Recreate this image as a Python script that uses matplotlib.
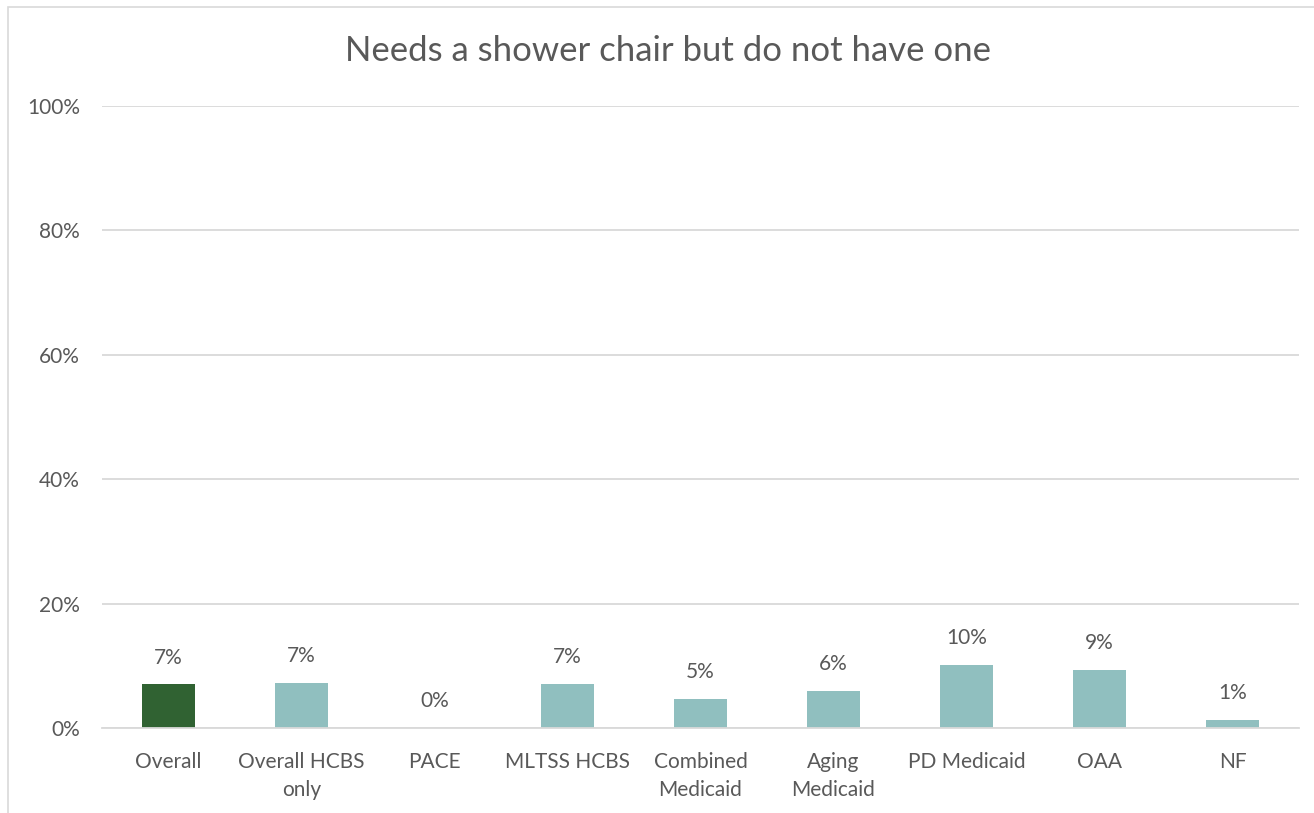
import matplotlib.pyplot as plt
from matplotlib.patches import Rectangle
from matplotlib.ticker import FuncFormatter

# -- data --
categories = ['Overall', 'Overall HCBS\nonly', 'PACE', 'MLTSS HCBS', 'Combined\nMedicaid',
              'Aging\nMedicaid', 'PD Medicaid', 'OAA', 'NF']
values = [7.0, 7.3, 0.0, 7.1, 4.7, 6.0, 10.2, 9.4, 1.3]
labels = ['7%', '7%', '0%', '7%', '5%', '6%', '10%', '9%', '1%']
colors = ['#306232'] + ['#90BFBF'] * 8

txt = '#595959'
plt.rcParams['font.family'] = ['Lato', 'DejaVu Sans']

fig = plt.figure(figsize=(13.14, 8.13), dpi=100)
ax = fig.add_axes([102 / 1314, 1 - 728 / 813, 1197 / 1314, 622 / 813])

x = range(len(categories))
ax.bar(x, values, width=0.405, color=colors, zorder=3)
for i, v in enumerate(values):
    ax.annotate(labels[i], (i, v), xytext=(0, 12), textcoords='offset points',
                ha='center', va='bottom', fontsize=15, color=txt)

ax.set_xlim(-0.5, len(categories) - 0.5)
ax.set_ylim(0, 100)
ax.set_yticks([0, 20, 40, 60, 80, 100])
ax.yaxis.set_major_formatter(FuncFormatter(lambda v, p: f'{v:.0f}%'))
ax.set_xticks(list(x))
ax.set_xticklabels(categories, fontsize=15, color=txt, linespacing=1.55)
ax.tick_params(axis='y', labelsize=15, labelcolor=txt, length=0, pad=16)
ax.tick_params(axis='x', length=0, pad=17)
ax.grid(axis='y', color='#D9D9D9', linewidth=1.3, zorder=0)
for s in ['top', 'right', 'left']:
    ax.spines[s].set_visible(False)
ax.spines['bottom'].set_color('#D9D9D9')
ax.spines['bottom'].set_linewidth(1.3)
ax.spines['bottom'].set_zorder(4)

fig.text(668 / 1314, 1 - 51 / 813, 'Needs a shower chair but do not have one',
         ha='center', va='center', fontsize=25, color=txt)

# chart border (cropped at right and bottom)
fig.patches.append(Rectangle((8 / 1314, -0.1), 1.2, 1 - 7 / 813 + 0.1,
                             transform=fig.transFigure, fill=False,
                             edgecolor='#D9D9D9', linewidth=1.2))

fig.savefig('out.png', dpi=100)
